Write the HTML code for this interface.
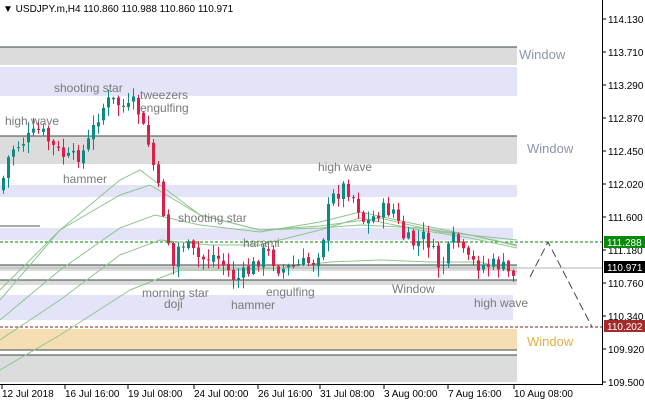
<!DOCTYPE html>
<html><head><meta charset="utf-8"><style>
body{margin:0;background:#fff;}
svg{display:block;font-family:"Liberation Sans",sans-serif;}
</style></head><body>
<svg id="s" width="645" height="407" xmlns="http://www.w3.org/2000/svg">
<rect width="645" height="407" fill="#fff"/>
<rect x="0" y="47" width="517" height="18" fill="#dcdcdc"/>
<line x1="0" y1="47" x2="517" y2="47" stroke="#3a4a48"/>
<rect x="0" y="67" width="517" height="29" fill="#e4e4f8"/>
<rect x="0" y="136" width="517" height="28" fill="#dcdcdc"/>
<line x1="0" y1="136" x2="517" y2="136" stroke="#3a4a48"/>
<rect x="0" y="185" width="517" height="12" fill="#e4e4f8"/>
<rect x="0" y="228" width="513" height="12" fill="#e4e4f8"/>
<line x1="0" y1="226" x2="40" y2="226" stroke="#555"/>
<rect x="0" y="265" width="517" height="6" fill="#dcdcdc"/>
<line x1="0" y1="265" x2="517" y2="265" stroke="#3a4a48"/>
<rect x="0" y="280" width="517" height="5" fill="#dcdcdc"/>
<line x1="0" y1="280" x2="517" y2="280" stroke="#3a4a48"/>
<rect x="0" y="295" width="513" height="25" fill="#e4e4f8"/>
<rect x="0" y="329" width="517" height="21" fill="#f6deb4"/>
<line x1="0" y1="350" x2="517" y2="350" stroke="#3a4a48"/>
<rect x="0" y="355" width="517" height="27" fill="#dcdcdc"/>
<line x1="0" y1="355" x2="517" y2="355" stroke="#3a4a48"/>
<line x1="0" y1="268" x2="602" y2="268" stroke="#b0b0b0"/>
<line x1="0" y1="242" x2="602" y2="242" stroke="#080" stroke-dasharray="3,2"/>
<line x1="0" y1="327" x2="602" y2="327" stroke="#8b2020" stroke-dasharray="3,2"/>
<g id="ma" fill="none" stroke="#8fc48f" stroke-width="1"></g>
<g id="c"></g>
<polyline points="530,277 548,242 592,327" fill="none" stroke="#444" stroke-dasharray="8,4"/>
<g fill="#7a7a7a" font-size="12">
<text x="5" y="125">high wave</text><text x="54" y="92">shooting star</text>
<text x="140" y="99">tweezers</text><text x="140" y="112">engulfing</text>
<text x="63" y="183">hammer</text><text x="318" y="171">high wave</text>
<text x="178" y="222">shooting star</text><text x="243" y="247">harami</text>
<text x="142" y="297">morning star</text><text x="164" y="308">doji</text>
<text x="266" y="296">engulfing</text><text x="231" y="309">hammer</text>
<text x="392" y="293">Window</text><text x="474" y="307">high wave</text>
</g>
<g font-size="13" fill="#8a96b0"><text x="519" y="59">Window</text><text x="527" y="153">Window</text></g>
<text x="527" y="346" font-size="13" fill="#e0b040">Window</text>
<line x1="602.5" y1="0" x2="602.5" y2="385" stroke="#000"/>
<line x1="0" y1="384.5" x2="603" y2="384.5" stroke="#000"/>
<g id="ax" font-size="10" fill="#000"></g>
<rect x="604" y="236" width="41" height="12" fill="#0a8a0a"/><text x="607" y="246" font-size="10" fill="#fff">111.288</text>
<rect x="604" y="261" width="41" height="12" fill="#000"/><text x="607" y="271" font-size="10" fill="#fff">110.971</text>
<rect x="604" y="320" width="41" height="12" fill="#a52a2a"/><text x="607" y="330" font-size="10" fill="#fff">110.202</text>
<g font-size="10" fill="#000">
<text x="2" y="397">12 Jul 2018</text><text x="65" y="397">16 Jul 16:00</text><text x="128" y="397">19 Jul 08:00</text>
<text x="194" y="397">24 Jul 00:00</text><text x="258" y="397">26 Jul 16:00</text><text x="320" y="397">31 Jul 08:00</text>
<text x="384" y="397">3 Aug 00:00</text><text x="448" y="397">7 Aug 16:00</text><text x="514" y="397">10 Aug 08:00</text>
</g>
<text x="3" y="12" font-size="10" fill="#000">▼ USDJPY.m,H4  110.860 110.988 110.860 110.971</text>
</svg>
<script>
(function(){
var NS="http://www.w3.org/2000/svg";
function el(p,t,a){var e=document.createElementNS(NS,t);for(var k in a)e.setAttribute(k,a[k]);p.appendChild(e);return e;}
var ax=document.getElementById('ax');
[["114.130",19],["113.710",52],["113.290",85],["112.870",118],["112.450",151],["112.020",184],["111.600",217],["111.180",250],["110.760",283],["110.340",316],["109.920",349],["109.500",382]].forEach(function(t){
el(ax,'line',{x1:602,y1:t[1],x2:606,y2:t[1],stroke:'#000'});var tx=el(ax,'text',{x:608,y:t[1]+4});tx.textContent=t[0];});
[2,65,128,194,258,320,384,448,514].forEach(function(x){el(ax,'line',{x1:x,y1:385,x2:x,y2:389,stroke:'#000'});});
var P=[[0,190],[10,150],[25,140],[40,130],[55,150],[70,160],[85,150],[100,110],[110,100],[130,110],[135,100],[140,120],[150,150],[158,190],[165,220],[172,270],[180,240],[190,250],[200,260],[215,255],[235,280],[250,270],[265,250],[280,270],[300,265],[315,260],[322,240],[330,200],[345,185],[355,200],[365,225],[380,210],[395,210],[400,235],[415,245],[425,235],[440,270],[455,235],[465,260],[480,265],[500,265],[510,275],[518,268]];
function f(x){for(var i=1;i<P.length;i++){if(x<=P[i][0]){var a=P[i-1],b=P[i];return a[1]+(b[1]-a[1])*(x-a[0])/(b[0]-a[0]);}}return 268;}
var seed=7;function r(){seed=(seed*9301+49297)%233280;return seed/233280;}
var c=document.getElementById('c');var prev=f(0);
for(var x=3;x<=517;x+=5){var cl=f(x)+(r()-0.5)*16;var o=prev+(r()-0.5)*4;var up=cl<o;var tp=Math.min(o,cl),bt=Math.max(o,cl);if(bt-tp<1)bt=tp+1;
var col=up?'#0e8a82':'#dc1e4a';
var w1=tp-1-r()*10,w2=bt+1+r()*10;
el(c,'line',{x1:x+.5,y1:w1.toFixed(1),x2:x+.5,y2:w2.toFixed(1),stroke:col});
el(c,'rect',{x:x-1,y:tp.toFixed(1),width:3,height:(bt-tp).toFixed(1),fill:col});prev=cl;}
var ma=document.getElementById('ma');
var L=[[[0,290],[60,230],[120,195],[150,185],[200,215],[260,230],[320,228],[360,225],[420,228],[470,235],[517,245]],
[[0,320],[60,270],[120,228],[155,215],[200,225],[260,232],[320,222],[360,212],[420,225],[470,235],[517,246]],
[[0,340],[60,300],[120,255],[160,240],[210,245],[260,245],[320,230],[360,218],[420,230],[470,238],[517,248]],
[[0,370],[60,335],[130,290],[180,270],[230,270],[280,268],[330,262],[380,260],[430,262],[480,262],[517,272]]];
L.forEach(function(p){el(ma,'polyline',{points:p.map(function(q){return q.join(',')}).join(' ')});});
el(ma,'polyline',{points:"0,300 60,230 120,180 140,170 160,185 200,215 260,230 320,226 380,218 440,232 517,240"});
})();
</script>
</body></html>
